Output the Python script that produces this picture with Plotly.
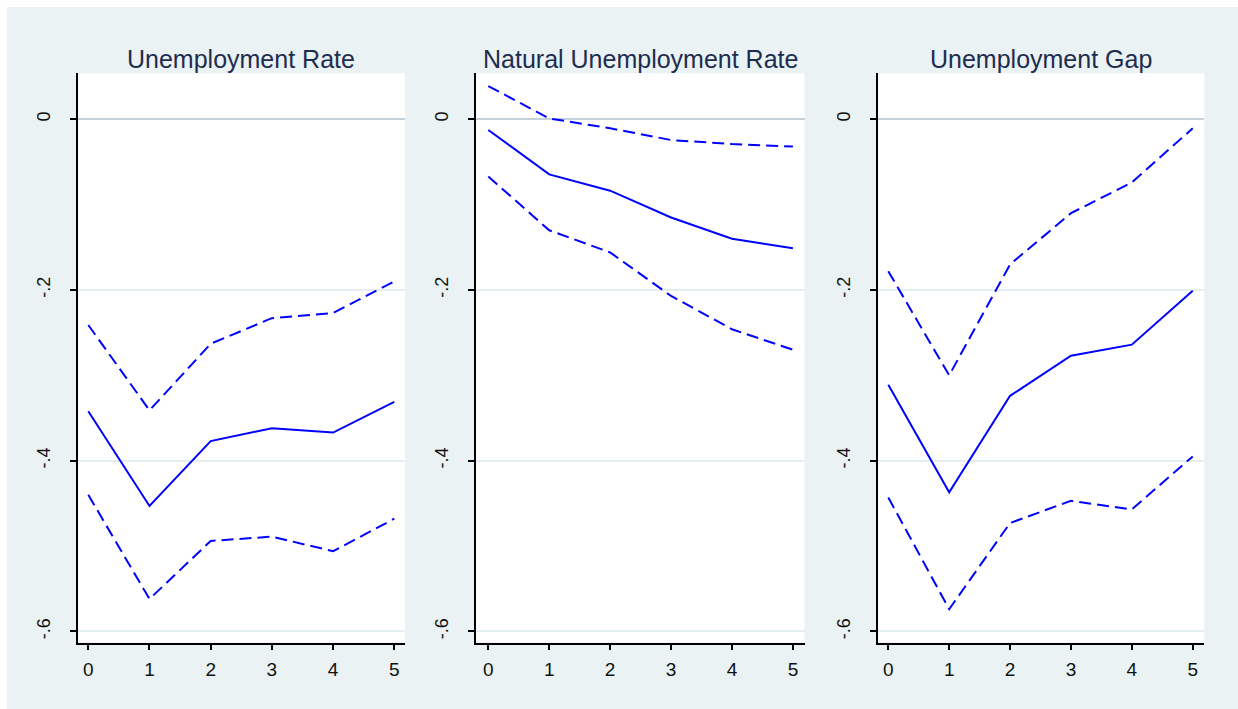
import plotly.graph_objects as go

# Impulse responses, horizons 0..5
horizon = [0, 1, 2, 3, 4, 5]

panel_titles = ["Unemployment Rate", "Natural Unemployment Rate", "Unemployment Gap"]

# Unemployment rate: point estimate with upper / lower bands
ur_mid = [-0.342, -0.453, -0.377, -0.362, -0.367, -0.331]
ur_hi = [-0.241, -0.341, -0.263, -0.233, -0.227, -0.190]
ur_lo = [-0.440, -0.562, -0.494, -0.489, -0.506, -0.468]

# Natural unemployment rate
nr_mid = [-0.0125, -0.0645, -0.0836, -0.115, -0.140, -0.151]
nr_hi = [0.039, 0.001, -0.0105, -0.0243, -0.029, -0.032]
nr_lo = [-0.067, -0.130, -0.156, -0.207, -0.246, -0.270]

# Unemployment gap
ug_mid = [-0.311, -0.437, -0.324, -0.277, -0.264, -0.201]
ug_hi = [-0.178, -0.300, -0.170, -0.110, -0.074, -0.0105]
ug_lo = [-0.443, -0.574, -0.473, -0.447, -0.457, -0.395]

ytick_vals = [0, -0.2, -0.4, -0.6]
ytick_text = ["0", "-.2", "-.4", "-.6"]

W, H = 1238, 709
BG = "#eaf2f3"
LINE = "#0000ff"

x_domains = [(77.7 / W, 405 / W), (476 / W, 804.5 / W), (877.7 / W, 1204.3 / W)]
x_ranges = [(-0.173, 5.175), (-0.202, 5.19), (-0.174, 5.19)]
y_domain = (66.5 / H, (H - 73.3) / H)
y_range = (-0.613, 0.0539)

fig = go.Figure()

series = [(ur_mid, ur_hi, ur_lo), (nr_mid, nr_hi, nr_lo), (ug_mid, ug_hi, ug_lo)]
for i, (mid, hi, lo) in enumerate(series):
    sfx = "" if i == 0 else str(i + 1)
    for vals, dash in ((hi, "12px,6px"), (mid, "solid"), (lo, "12px,6px")):
        fig.add_trace(go.Scatter(
            x=horizon, y=vals, mode="lines",
            line=dict(color=LINE, width=2, dash=dash),
            xaxis="x" + sfx, yaxis="y" + sfx, showlegend=False,
            hoverinfo="skip",
        ))

xtick_font = dict(family="Liberation Sans Narrow, Arial Narrow, Liberation Sans, Arial, sans-serif",
                  size=19, color="#111111")
ytick_font = dict(family="Liberation Sans, Arial, sans-serif", size=18, color="#111111")

layout = dict(
    width=W, height=H,
    margin=dict(l=0, r=0, t=0, b=0),
    paper_bgcolor=BG,
    plot_bgcolor="white",
    showlegend=False,
)

for i in range(3):
    sfx = "" if i == 0 else str(i + 1)
    layout["xaxis" + sfx] = dict(
        domain=list(x_domains[i]), range=list(x_ranges[i]),
        anchor="y" + sfx,
        tickvals=horizon, ticktext=[str(h) for h in horizon],
        ticks="outside", ticklen=5, tickwidth=1.5, tickcolor="black",
        showline=True, linecolor="black", linewidth=2,
        showgrid=False, zeroline=False,
        tickfont=xtick_font, ticklabelstandoff=4,
    )
    layout["yaxis" + sfx] = dict(
        domain=list(y_domain), range=list(y_range),
        anchor="x" + sfx,
        tickvals=ytick_vals, ticktext=ytick_text, tickangle=-90,
        ticks="outside", ticklen=6, tickwidth=1.5, tickcolor="black",
        showline=True, linecolor="black", linewidth=2,
        showgrid=True, gridcolor="#e5eef0", gridwidth=2,
        zeroline=True, zerolinecolor="#c6d2db", zerolinewidth=2,
        tickfont=ytick_font, ticklabelstandoff=13,
    )

fig.update_layout(**layout)

# Panel titles centred over each plot region
for i, title in enumerate(panel_titles):
    cx = (x_domains[i][0] + x_domains[i][1]) / 2
    fig.add_annotation(
        text=title, xref="paper", yref="paper", x=cx, y=1 - 59 / H,
        xanchor="center", yanchor="middle", showarrow=False,
        font=dict(family="Liberation Sans, Arial, sans-serif", size=25, color="#1e2d4f"),
    )

# White margin strips along the top and left edges
fig.add_shape(type="rect", xref="paper", yref="paper", x0=0, x1=7 / W, y0=0, y1=1,
              fillcolor="white", line=dict(width=0), layer="below")
fig.add_shape(type="rect", xref="paper", yref="paper", x0=0, x1=1, y0=1 - 7 / H, y1=1,
              fillcolor="white", line=dict(width=0), layer="below")

fig.write_html("out.html")
